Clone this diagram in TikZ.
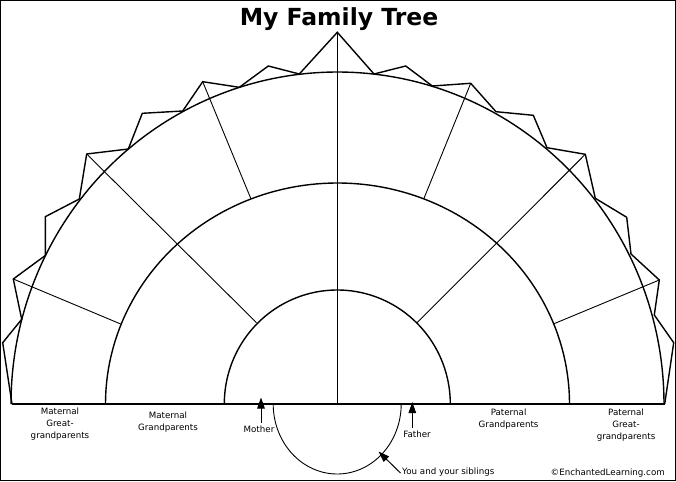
\documentclass[tikz,border=0pt]{standalone}
\usepackage{fontspec}
\setmainfont{DejaVu Sans}
\usetikzlibrary{arrows.meta}
\begin{document}
\begin{tikzpicture}[x=1pt,y=-1pt,
  heavy/.style={line width=1.4pt, line join=miter},
  fine/.style={line width=0.9pt},
  lbl/.style={font=\fontsize{8.7}{11.8}\selectfont, align=center, inner sep=0pt},
  ptr/.style={line width=1pt, -{Triangle[length=11pt,width=7.5pt]}}
]
\useasboundingbox (0,0) rectangle (676,481);
\draw[line width=1.2pt] (0.6,0.6) rectangle (675.4,480.4);

% title
\node[font=\bfseries\fontsize{23.5}{28}\selectfont, anchor=base, inner sep=0pt] (title) at (339,26) {My Family Tree};

% zigzag outline points
\coordinate (z0) at (12,404);
\coordinate (z1) at (2.7,342.7);
\coordinate (z2) at (21.7,319.3);
\coordinate (z3) at (13.3,279);
\coordinate (z4) at (45.3,255.5);
\coordinate (z5) at (45.3,216.7);
\coordinate (z6) at (79.3,199);
\coordinate (z7) at (86.7,154);
\coordinate (z8) at (128.3,149);
\coordinate (z9) at (142.3,113.3);
\coordinate (z10) at (182.7,111);
\coordinate (z11) at (202.7,81.7);
\coordinate (z12) at (239.3,87.3);
\coordinate (z13) at (268.3,66);
\coordinate (z14) at (299.3,74);
\coordinate (z15) at (337.3,32.3);
\coordinate (z16) at (374,74);
\coordinate (z17) at (405.7,66);
\coordinate (z18) at (432.3,86);
\coordinate (z19) at (470.7,83.3);
\coordinate (z20) at (496,111.7);
\coordinate (z21) at (533.3,115.3);
\coordinate (z22) at (547,147.7);
\coordinate (z23) at (585.3,154.3);
\coordinate (z24) at (595.3,198.3);
\coordinate (z25) at (626.7,217.3);
\coordinate (z26) at (631,254);
\coordinate (z27) at (659.3,280);
\coordinate (z28) at (654.3,315);
\coordinate (z29) at (673.7,342.7);
\coordinate (z30) at (664.7,404);

% interior end points
\coordinate (m1) at (120.7,324);
\coordinate (i1) at (256.5,322.7);
\coordinate (m2) at (251,199);
\coordinate (c0) at (337.3,404);
\coordinate (m3) at (423.7,199);
\coordinate (i2) at (417,322.7);
\coordinate (m4) at (553.3,324);

% zigzag
\draw[heavy] (z0) -- (z1) -- (z2) -- (z3) -- (z4) -- (z5) -- (z6) -- (z7) -- (z8) -- (z9) -- (z10)
  -- (z11) -- (z12) -- (z13) -- (z14) -- (z15) -- (z16) -- (z17) -- (z18) -- (z19) -- (z20)
  -- (z21) -- (z22) -- (z23) -- (z24) -- (z25) -- (z26) -- (z27) -- (z28) -- (z29) -- (z30);

% arcs
\draw[heavy] plot[domain=0:180, samples=120, smooth] ({337.5+326.5*cos(\x)}, {404-332*sin(\x)});
\draw[heavy] plot[domain=0:180, samples=100, smooth] ({337.5+232*cos(\x)}, {404-221*sin(\x)});
\draw[heavy] plot[domain=0:180, samples=80, smooth] ({337.3+113*cos(\x)}, {404-114*sin(\x)});

% baseline and centre line
\draw[heavy] (z0) -- (z30);
\draw[heavy] (z15) -- (c0);

% dividing lines
\draw[fine] (z3) -- (m1);
\draw[fine] (z7) -- (i1);
\draw[fine] (z11) -- (m2);
\draw[fine] (z19) -- (m3);
\draw[fine] (z23) -- (i2);
\draw[fine] (z27) -- (m4);

% siblings loop
\draw[fine] plot[domain=0:180, samples=80, smooth] ({337.2+64*cos(\x)}, {404+70*sin(\x)});

% labels
\node[lbl] (mgg) at (60,424) {Maternal\\Great-\\grandparents};
\node[lbl] (mg) at (168,422) {Maternal\\Grandparents};
\node[lbl] (mother) at (259,429) {Mother};
\node[lbl] (father) at (417,434) {Father};
\node[lbl] (pg) at (508.6,419) {Paternal\\Grandparents};
\node[lbl] (pgg) at (626,425) {Paternal\\Great-\\grandparents};
\node[lbl, anchor=west] (sib) at (402,472) {You and your siblings};
\node[lbl, anchor=east] (copy) at (665,473) {©EnchantedLearning.com};

% arrows
\coordinate (mA) at (261,423);
\coordinate (mT) at (261,397.5);
\coordinate (fA) at (412.3,428);
\coordinate (fT) at (412.3,402);
\coordinate (sA) at (400.5,473);
\coordinate (sT) at (378.5,451.5);
\draw[ptr] (mA) -- (mT);
\draw[ptr] (fA) -- (fT);
\draw[ptr] (sA) -- (sT);
\end{tikzpicture}
\end{document}
